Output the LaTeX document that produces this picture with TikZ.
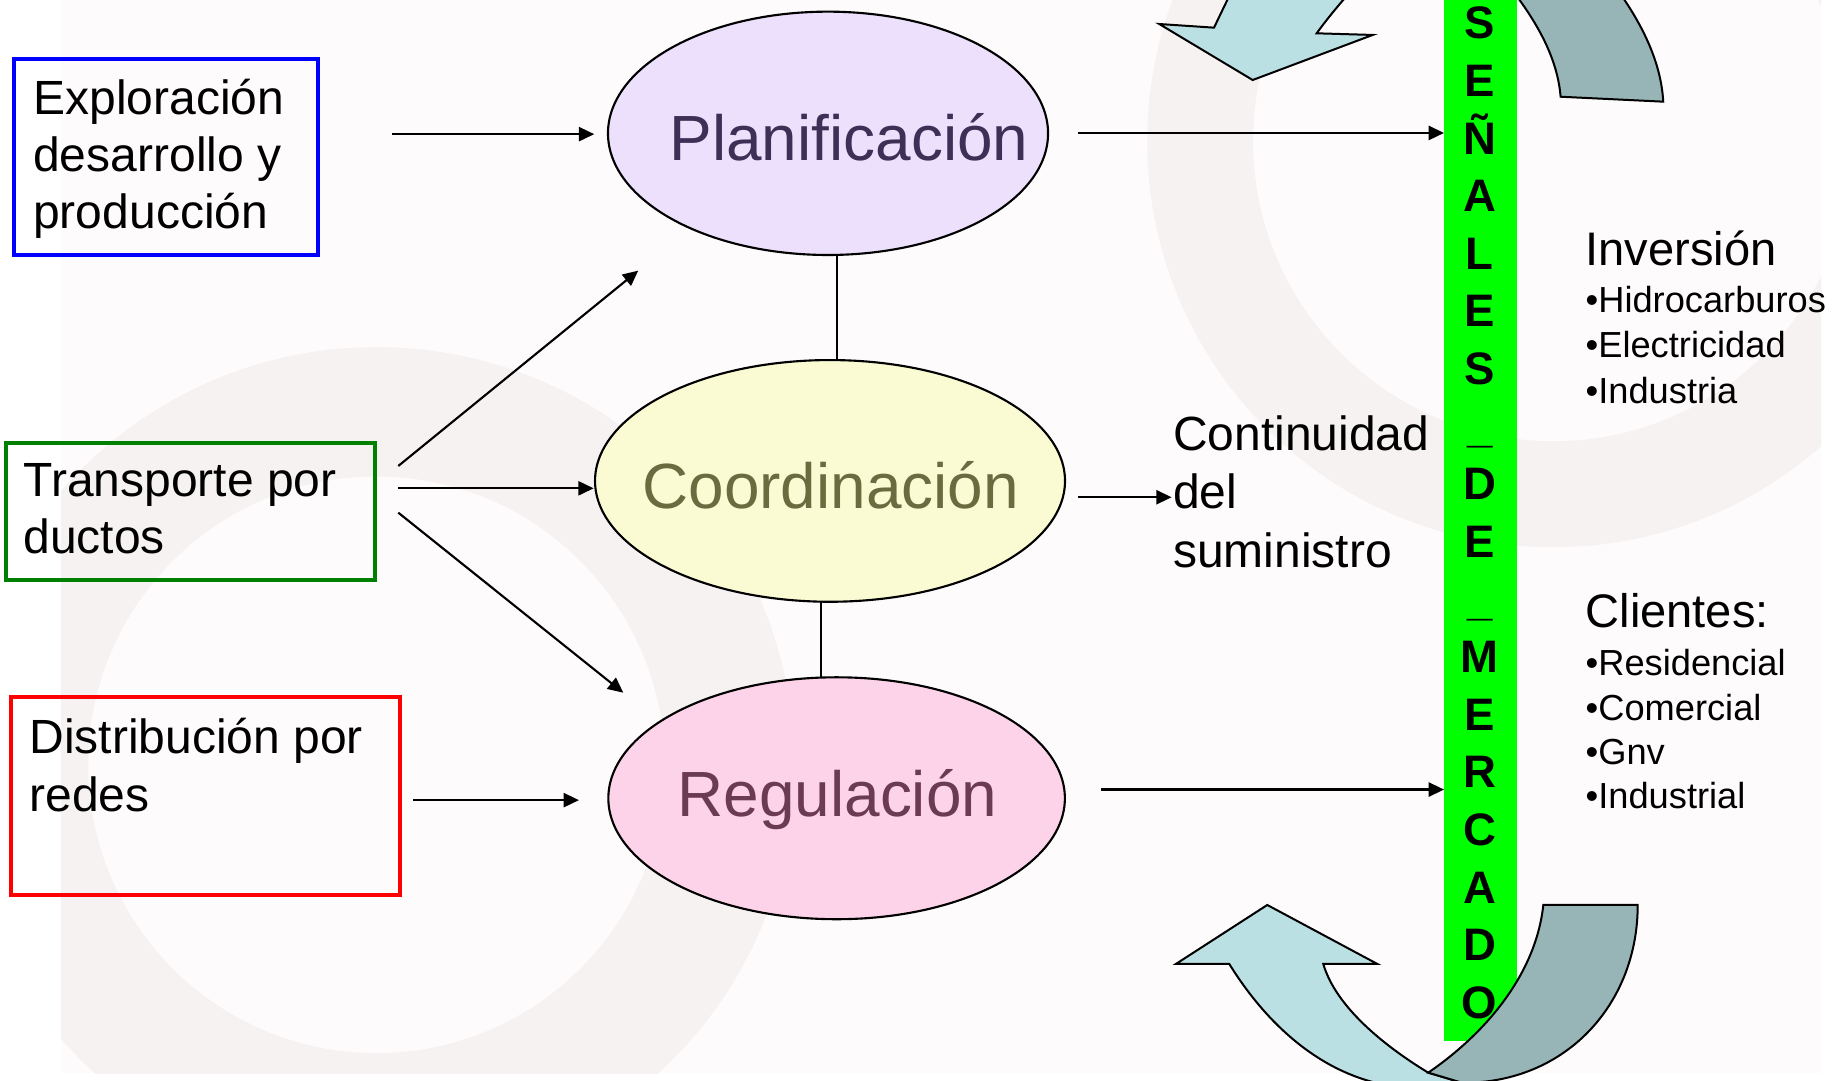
\documentclass[tikz,border=0pt]{standalone}
\usepackage{fontspec}
\setmainfont{Liberation Sans}
\usetikzlibrary{shapes.geometric,arrows.meta}
\definecolor{sigreen}{HTML}{00FF00}
\definecolor{lightarr}{HTML}{BBE0E3}
\definecolor{darkarr}{HTML}{97B5B6}
\definecolor{planfill}{HTML}{EDE0FC}
\definecolor{coordfill}{HTML}{FBFBD3}
\definecolor{regfill}{HTML}{FCD3E8}
\definecolor{plantext}{HTML}{3D2F55}
\definecolor{coordtext}{HTML}{6B6B40}
\definecolor{regtext}{HTML}{6B3A55}
\definecolor{boxgreen}{HTML}{008000}
\definecolor{wmbase}{HTML}{FDFBFB}
\definecolor{wmring}{HTML}{F7F2F2}
\begin{document}
\begin{tikzpicture}[x=1pt,y=-1pt,
  every node/.style={inner sep=0pt,outer sep=0pt},
  conn/.style={line width=1.8pt,-{Triangle[length=13pt,width=12pt]}},
  link/.style={line width=1.7pt},
  frame/.style={draw,line width=3.4pt,rectangle},
  oval/.style={ellipse,draw,line width=1.8pt},
  btxt/.style={anchor=base west,font=\fontsize{40.8}{48}\selectfont},
  big/.style={anchor=base,font=\fontsize{54.3}{60}\selectfont},
  letter/.style={anchor=base,font=\fontsize{38.7}{45}\selectfont\bfseries},
  rhead/.style={anchor=base west,font=\fontsize{40}{45}\selectfont},
  ritem/.style={anchor=base west,font=\fontsize{30.8}{36}\selectfont},
  band/.style={draw,line width=1.7pt,line join=miter}]
\useasboundingbox (0,0) rectangle (1568,918.7);
\fill[white] (0,0) rectangle (1568,918.7);
\clip (0,0) rectangle (1568,918.7);

% very faint watermark (gears)
\begin{scope}
\clip (52,0) rectangle (1548,912);
\fill[wmbase] (52,0) rectangle (1548,912);
\draw[wmring,line width=110pt] (320,650) circle (300);
\draw[wmring,line width=90pt] (1320,120) circle (300);
\end{scope}

% left boxes
\node[frame,draw=blue,minimum width=258.6,minimum height=166.5] (b1) at (140.9,133.2) {};
\node[frame,draw=boxgreen,minimum width=313.8,minimum height=116] (b2) at (161.6,434.5) {};
\node[frame,draw=red,minimum width=330.5,minimum height=167.8] (b3) at (175,676.4) {};
\node[btxt] (b1l1) at (28.3,97.7) {Exploración};
\node[btxt] (b1l2) at (28.3,145.9) {desarrollo y};
\node[btxt] (b1l3) at (28.3,194) {producción};
\node[btxt] (b2l1) at (20,421.7) {Transporte por};
\node[btxt] (b2l2) at (20,470.7) {ductos};
\node[btxt] (b3l1) at (25,640.7) {Distribución por};
\node[btxt] (b3l2) at (25,689.7) {redes};

% ellipses
\node[oval,fill=planfill,minimum width=374,minimum height=206.8] (plan) at (703.7,113.3) {};
\node[oval,fill=coordfill,minimum width=399.4,minimum height=205.4] (coord) at (705.4,408.7) {};
\node[oval,fill=regfill,minimum width=388,minimum height=205.6] (reg) at (711,678.4) {};
\node[big,text=plantext] (planT) at (721.5,136) {Planificación};
\node[big,text=coordtext] (coordT) at (706,432) {Coordinación};
\node[big,text=regtext] (regT) at (711.7,694) {Regulación};

\draw[link] ([xshift=7.3pt]plan.south) -- ([xshift=7.3pt]plan.south |- coord.north);
\draw[link] ([xshift=-7.7pt]coord.south) -- ([xshift=-7.7pt]coord.south |- reg.north);

% green bar
\node[fill=sigreen,minimum width=62.2,minimum height=884.7,anchor=north west] (bar) at (1227.2,0) {};

% curved arrows top
\filldraw[band,fill=lightarr] (985.2,20.4) -- (1031.7,23.5) .. controls (1037,13) and (1048,-12) .. (1062,-35)
  -- (1175,-35) .. controls (1150,-12) and (1127,17) .. (1119,28.3) -- (1166.6,29.7) -- (1064.6,68) -- cycle;
\filldraw[band,fill=darkarr] (1326.3,82.2) -- (1413.5,86.4) .. controls (1412,58) and (1400,25) .. (1370,-15)
  -- (1280,-15) .. controls (1312,25) and (1324,55) .. (1326.3,82.2) -- cycle;
% curved arrows bottom
\filldraw[band,fill=lightarr] (999.4,819.2) -- (1044.7,819.2) .. controls (1062.7,848.2) and (1110,915) .. (1190,924)
  -- (1255.7,924) -- (1213.8,911.6) .. controls (1175,888) and (1135,855) .. (1124.6,819.2)
  -- (1170.5,819.2) -- (1077,769.1) -- cycle;
\filldraw[band,fill=darkarr] (1213.8,911.6) .. controls (1260,880) and (1305,830) .. (1311.6,769.1)
  -- (1391.8,769.1) .. controls (1392,850) and (1335,916) .. (1252,920) -- (1262,926) -- cycle;

% letters
\foreach \ch [count=\i] in {S,E,Ñ,A,L,E,S,\_,D,E,\_,M,E,R,C,A,D,O}
  \node[letter] (l\i) at (1257.5,{33+(\i-1)*48.97}) {\ch};

% connectors
\coordinate (a1s) at (333,114);
\coordinate (a1e) at (505,114);
\coordinate (a2s) at (916,113);
\coordinate (a3s) at (338.5,396);
\coordinate (a3e) at (542.4,230);
\coordinate (a4s) at (338.5,415);
\coordinate (a4e) at (504.5,415);
\coordinate (a5s) at (338.5,435.7);
\coordinate (a5e) at (529.7,588.7);
\coordinate (a6s) at (916.4,422.6);
\coordinate (a6e) at (995.7,422.6);
\coordinate (a7s) at (351,680);
\coordinate (a7e) at (492,680);
\coordinate (a8s) at (936,671);
\draw[conn] (a1s) -- (a1e);
\draw[conn] (a2s) -- (a2s -| bar.west);
\draw[conn] (a3s) -- (a3e);
\draw[conn] (a4s) -- (a4e);
\draw[conn] (a5s) -- (a5e);
\draw[conn] (a6s) -- (a6e);
\draw[conn] (a7s) -- (a7e);
\draw[conn] (a8s) -- (a8s -| bar.west);

% middle text
\node[btxt] (c1) at (997,383) {Continuidad};
\node[btxt] (c2) at (997,432.5) {del};
\node[btxt] (c3) at (997,482) {suministro};

% right texts
\node[rhead] (inv) at (1347.6,225.3) {Inversión};
\node[ritem] (i1) at (1347.6,265.6) {•Hidrocarburos};
\node[ritem] (i2) at (1347.6,304.2) {•Electricidad};
\node[ritem] (i3) at (1347.6,342.9) {•Industria};
\node[rhead] (cli) at (1347.6,533.7) {Clientes:};
\node[ritem] (k1) at (1347.6,574) {•Residencial};
\node[ritem] (k2) at (1347.6,612.7) {•Comercial};
\node[ritem] (k3) at (1347.6,650.1) {•Gnv};
\node[ritem] (k4) at (1347.6,687.4) {•Industrial};
\end{tikzpicture}
\end{document}
